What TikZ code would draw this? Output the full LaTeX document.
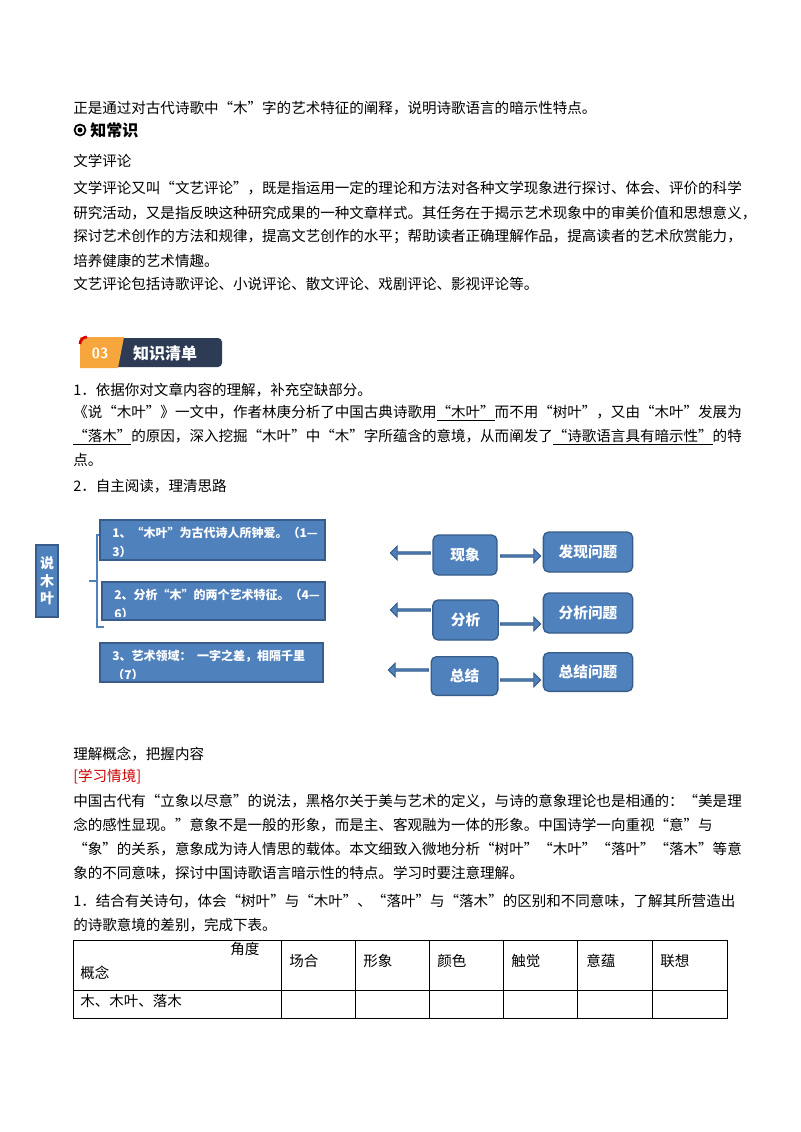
\documentclass[tikz,border=0pt]{standalone}
\usepackage{fontspec}
\setmainfont{Liberation Serif}
\newfontfamily\cjk{Noto Sans CJK SC}
\usetikzlibrary{shapes.arrows}
\definecolor{boxblue}{HTML}{4F81BD}
\definecolor{boxedge}{HTML}{385D8A}
\definecolor{navy}{HTML}{2E3B55}
\definecolor{orng}{HTML}{F6A63C}
\tikzset{
 txt/.style={anchor=west,inner sep=0pt,font=\cjk\fontsize{10.9pt}{13pt}\selectfont},
 bbox/.style={draw=boxedge,line width=1pt,fill=boxblue},
 rbox/.style={draw=boxedge,line width=1pt,fill=boxblue,rounded corners=4pt,text=white,font=\cjk\bfseries\fontsize{11pt}{13pt}\selectfont},
 barr/.style={single arrow,draw=boxedge,fill=boxblue,line width=0.8pt,minimum height=30pt,minimum width=10pt,single arrow head extend=2pt,single arrow head indent=0pt,inner sep=0pt},
 cell/.style={anchor=west,inner sep=0pt,font=\cjk\fontsize{10.9pt}{13pt}\selectfont}
}
\begin{document}
\begin{tikzpicture}[x=0.75pt,y=-0.75pt]
\useasboundingbox (0,0) rectangle (800,1132);
\fill[white] (0,0) rectangle (800,1132);
\node[txt] (l1) at (73,108) {正是通过对古代诗歌中“木”字的艺术特征的阐释，说明诗歌语言的暗示性特点。};
\draw[line width=1.3pt] (80,130) circle (5.5);
\fill (80,130) circle (2.5);
\node[txt,font=\cjk\bfseries\fontsize{12pt}{14pt}\selectfont] (zcs) at (90,130) {知常识};
\node[txt] (l2) at (73,161) {文学评论};
\node[txt] (l3) at (73,188) {文学评论又叫“文艺评论”，既是指运用一定的理论和方法对各种文学现象进行探讨、体会、评价的科学};
\node[txt] (l4) at (73,213) {研究活动，又是指反映这种研究成果的一种文章样式。其任务在于揭示艺术现象中的审美价值和思想意义，};
\node[txt] (l5) at (73,237) {探讨艺术创作的方法和规律，提高文艺创作的水平；帮助读者正确理解作品，提高读者的艺术欣赏能力，};
\node[txt] (l6) at (73,261) {培养健康的艺术情趣。};
\node[txt] (l7) at (73,284) {文艺评论包括诗歌评论、小说评论、散文评论、戏剧评论、影视评论等。};
% header
\fill[navy,rounded corners=3pt] (112,338) rectangle (222,367);
\fill[orng] (80,337) -- (124,337) -- (118,368) -- (80,368) -- cycle;
\draw[red!85!black,line width=2pt] (80,344) arc (180:270:7);
\node[inner sep=0pt,text=white,font=\sffamily\bfseries\fontsize{11pt}{13pt}\selectfont] (n03) at (100,353) {03};
\node[inner sep=0pt,text=white,font=\cjk\bfseries\fontsize{12pt}{14pt}\selectfont] (zsqd) at (165,353) {知识清单};
\node[txt] (m1) at (73,390) {1．依据你对文章内容的理解，补充空缺部分。};
\node[txt] (m2) at (73,413) {《说“木叶”》一文中，作者林庚分析了中国古典诗歌用\underline{“木叶”}而不用“树叶”，又由“木叶”发展为};
\node[txt] (m3) at (73,437) {\underline{“落木”}的原因，深入挖掘“木叶”中“木”字所蕴含的意境，从而阐发了\underline{“诗歌语言具有暗示性”}的特};
\node[txt] (m4) at (73,460) {点。};
\node[txt] (m5) at (73,486) {2．自主阅读，理清思路};
% diagram
\node[bbox,minimum width=16.5pt,minimum height=54pt,inner sep=0pt,text=white,font=\cjk\bfseries\fontsize{10.5pt}{13pt}\selectfont,align=center] (smy) at (47,581) {说\\木\\叶};
\draw[boxblue,line width=1.5pt] (104,535) -- (97,535) -- (97,581) -- (89,581) (97,581) -- (97,627) -- (104,627);
\foreach \n/\xa/\ya/\xb/\yb/\t in {b1/100/520/325/560/{1、“木叶”为古代诗人所钟爱。（1—\\3）},
  b2/102/582/325/620/{2、分析“木”的两个艺术特征。（4—\\6）},
  b3/100/643/323/682/{3、艺术领域：\ \ 一字之差，相隔千里\\（7）}}{
  \node[bbox,minimum width={(\xb-\xa)*0.75pt},minimum height={(\yb-\ya)*0.75pt},inner sep=0pt] (\n) at ({(\xa+\xb)/2},{(\ya+\yb)/2}) {};
  \begin{scope}
  \clip (\xa+2,\ya+2) rectangle (\xb-2,\yb-4);
  \node[anchor=north west,align=left,inner sep=0pt,text=white,font=\cjk\bfseries\fontsize{9pt}{14pt}\selectfont] at (\xa+12,\ya+7) {\t};
  \end{scope}
  \draw[boxedge,line width=1pt] (\xa,\ya) rectangle (\xb,\yb);
}
\node[rbox,minimum width=48pt,minimum height=30pt] (xx) at (465,555) {现象};
\node[rbox,minimum width=49pt,minimum height=30pt] (fx) at (465.5,620) {分析};
\node[rbox,minimum width=50pt,minimum height=29pt] (zj) at (464.5,676) {总结};
\node[rbox,minimum width=67pt,minimum height=30pt] (fxwt) at (588,552) {发现问题};
\node[rbox,minimum width=67pt,minimum height=30pt] (fxwt2) at (588,613) {分析问题};
\node[rbox,minimum width=67pt,minimum height=29pt] (zjwt) at (588,672) {总结问题};
\node[barr,shape border rotate=180] (a1) at (411,553) {};
\node[barr,shape border rotate=180] (a2) at (411,610) {};
\node[barr,shape border rotate=180] (a3) at (409,670) {};
\node[barr] (a4) at (520,556) {};
\node[barr] (a5) at (520,624) {};
\node[barr] (a6) at (520,680) {};
% lower text
\node[txt] (p1) at (73,754) {理解概念，把握内容};
\node[txt,text=red!80!black] (p2) at (73,777) {[学习情境]};
\node[txt] (p3) at (73,801) {中国古代有“立象以尽意”的说法，黑格尔关于美与艺术的定义，与诗的意象理论也是相通的：“美是理};
\node[txt] (p4) at (73,825) {念的感性显现。”意象不是一般的形象，而是主、客观融为一体的形象。中国诗学一向重视“意”与};
\node[txt] (p5) at (73,849) {“象”的关系，意象成为诗人情思的载体。本文细致入微地分析“树叶”“木叶”“落叶”“落木”等意};
\node[txt] (p6) at (73,873) {象的不同意味，探讨中国诗歌语言暗示性的特点。学习时要注意理解。};
\node[txt] (p7) at (73,901) {1．结合有关诗句，体会“树叶”与“木叶”、“落叶”与“落木”的区别和不同意味，了解其所营造出};
\node[txt] (p8) at (73,925) {的诗歌意境的差别，完成下表。};
% table
\draw[line width=0.6pt] (73,940) rectangle (727,1018);
\draw[line width=0.6pt] (73,990) -- (727,990);
\foreach \x in {281,355,429,503,577,652} \draw[line width=0.6pt] (\x,940) -- (\x,1018);
\node[cell] (jd) at (230,949) {角度};
\node[cell] (gn) at (80,973) {概念};
\node[cell] (c1) at (289,961) {场合};
\node[cell] (c2) at (363,961) {形象};
\node[cell] (c3) at (437,961) {颜色};
\node[cell] (c4) at (511,961) {触觉};
\node[cell] (c5) at (586,961) {意蕴};
\node[cell] (c6) at (660,961) {联想};
\node[cell] (r1) at (80,1001) {木、木叶、落木};
\end{tikzpicture}
\end{document}
